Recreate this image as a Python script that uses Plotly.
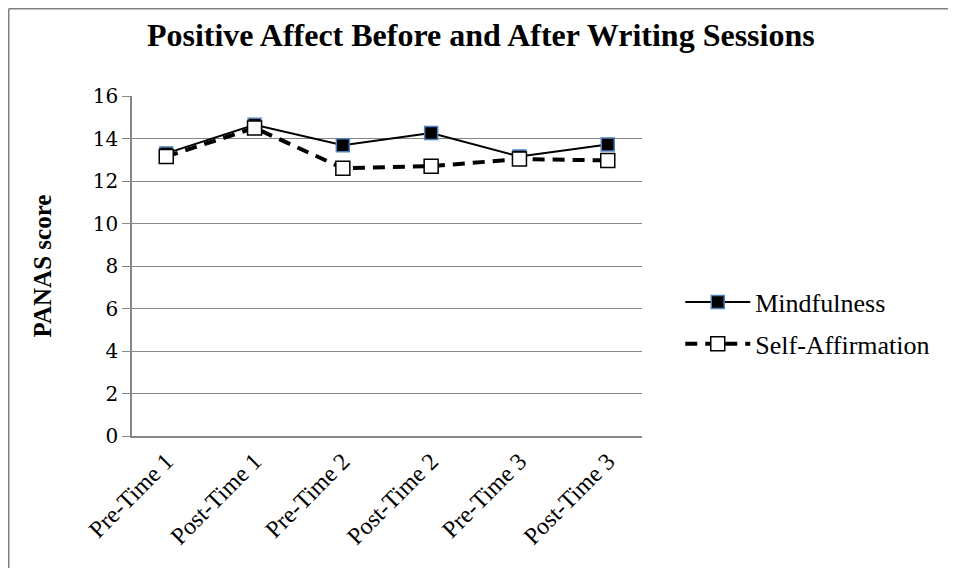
import plotly.graph_objects as go

categories = ["Pre-Time 1", "Post-Time 1", "Pre-Time 2", "Post-Time 2", "Pre-Time 3", "Post-Time 3"]
mindfulness = [13.3, 14.65, 13.68, 14.26, 13.15, 13.72]
self_affirmation = [13.15, 14.5, 12.6, 12.7, 13.03, 12.97]
y_ticks = [0, 2, 4, 6, 8, 10, 12, 14, 16]

serif = "Liberation Serif"
tick_serif = "DejaVu Serif"

fig = go.Figure()
fig.add_trace(go.Scatter(
    x=categories, y=mindfulness, name="Mindfulness", mode="lines+markers",
    legendgroup="m",
    line=dict(color="black", width=2),
    marker=dict(symbol="square", size=13, color="black", line=dict(color="#4F81BD", width=1.5)),
))
fig.add_trace(go.Scatter(
    x=categories, y=self_affirmation, name="Self-Affirmation", mode="lines+markers",
    legendgroup="sa",
    line=dict(color="black", width=4, dash="12px,8px"),
    marker=dict(symbol="square", size=14, color="white", line=dict(color="black", width=1.5)),
))

fig.update_layout(
    width=940, height=560,
    margin=dict(l=124, r=306, t=88, b=132),
    paper_bgcolor="white", plot_bgcolor="white",
    title=dict(text="<b>Positive Affect Before and After Writing Sessions</b>",
               x=0.503, xanchor="center", y=0.952, yanchor="middle",
               font=dict(family=serif, size=32, color="black")),
    showlegend=True,
    legend=dict(x=1.075, xanchor="left", y=0.332, yanchor="middle",
                traceorder="grouped", tracegroupgap=5, itemwidth=65,
                font=dict(family=serif, size=26, color="black"),
                bgcolor="rgba(0,0,0,0)"),
    xaxis=dict(type="category", showgrid=False, showline=True, linecolor="#868686", linewidth=1.5,
               ticks="", tickangle=-45, tickfont=dict(family=serif, size=24, color="black"),
               zeroline=False),
    yaxis=dict(range=[0, 16], tickvals=y_ticks, showgrid=True, gridcolor="#868686", gridwidth=1,
               showline=True, linecolor="#868686", linewidth=1.5, ticks="outside", ticklen=8,
               tickcolor="#868686", tickfont=dict(family=tick_serif, size=20, color="black"),
               zeroline=False,
               title=dict(text="<b>PANAS score</b>", font=dict(family=serif, size=25, color="black"),
                          standoff=34)),
    shapes=[
        dict(type="line", xref="paper", yref="paper", x0=-0.2417, x1=1.6, y0=1.2566, y1=1.2566,
             line=dict(color="#808080", width=1.5), layer="below"),
        dict(type="line", xref="paper", yref="paper", x0=-0.2417, x1=-0.2417, y0=-0.388, y1=1.2566,
             line=dict(color="#808080", width=1.5), layer="below"),
    ],
)

fig.write_html("out.html")
